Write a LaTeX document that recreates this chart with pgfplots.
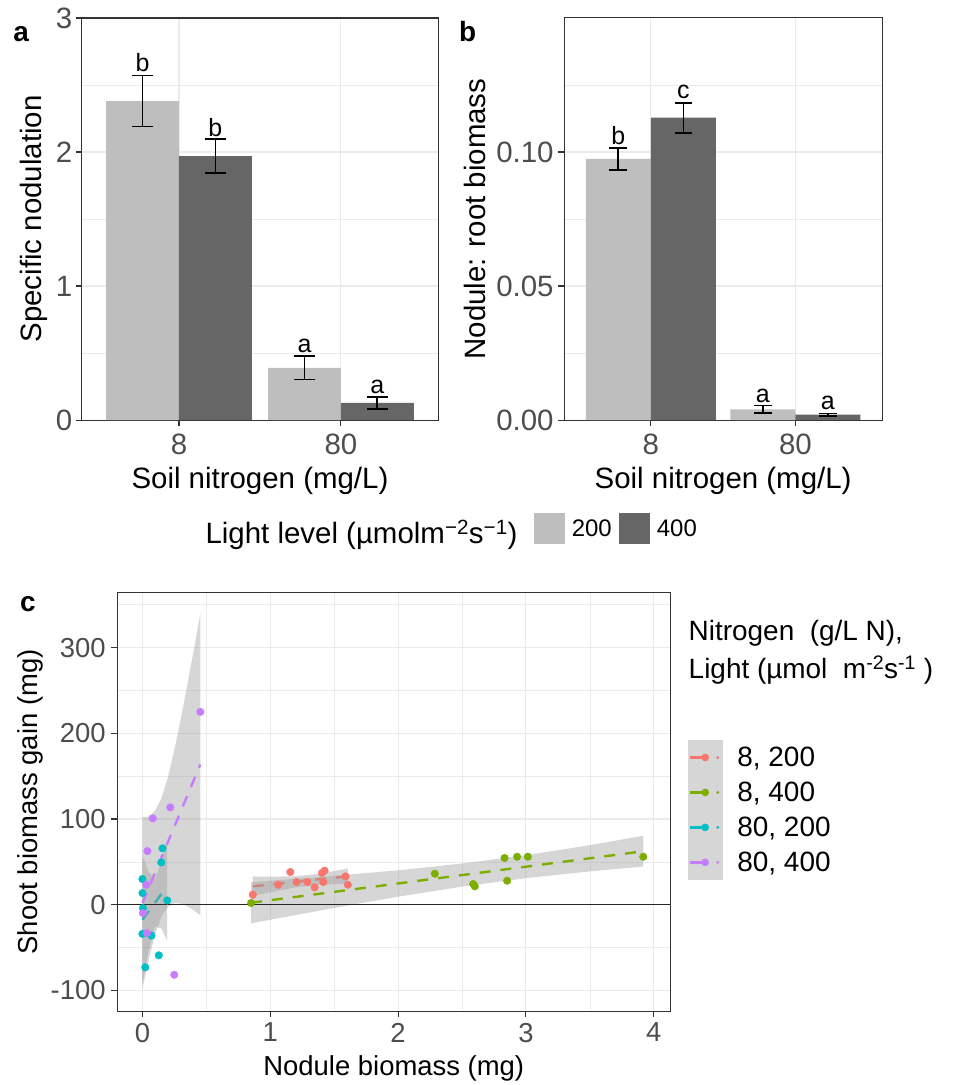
\documentclass[border=0pt]{standalone}
\usepackage{fontspec}
\setmainfont{Liberation Sans}
\usepackage{pgfplots}
\pgfplotsset{compat=1.18}
\definecolor{lightbar}{HTML}{BEBEBE}
\definecolor{darkbar}{HTML}{666666}
\definecolor{gridc}{HTML}{EBEBEB}
\definecolor{framec}{HTML}{333333}
\definecolor{tickc}{HTML}{4D4D4D}
\definecolor{cA}{HTML}{F8766D}
\definecolor{cB}{HTML}{7CAE00}
\definecolor{cC}{HTML}{00BFC4}
\definecolor{cD}{HTML}{C77CFF}
\definecolor{ribbon}{HTML}{999999}
\definecolor{keybg}{HTML}{D6D6D6}
\newcommand\fT{\fontsize{29.5}{30}\selectfont}
\newcommand\fC{\fontsize{27.5}{28}\selectfont}
\newcommand\fL{\fontsize{25}{25}\selectfont}
\newcommand\fP{\fontsize{28}{28}\selectfont\bfseries}
\pgfplotsset{
  layers/gglayers/.define layer set={axis background,axis grid,pre main,main,axis ticks,axis lines,axis tick labels,axis descriptions,axis foreground}{},
  ggbase/.style={
    set layers=gglayers,
    scale only axis, anchor=south west,
    axis line style={framec, line width=1.1pt},
    tick style={framec, line width=1.1pt},
    tick align=outside, tick pos=left,
    major tick length=6pt, minor tick length=0pt,
    major grid style={gridc, line width=1.1pt},
    minor grid style={gridc, line width=0.55pt},
    /pgf/number format/assume math mode=true,
    xticklabel style={text=tickc, anchor=north, inner sep=0pt},
    yticklabel style={text=tickc, anchor=east, inner sep=0pt},
  },
  barax/.style={ggbase, width=#1, height=403pt,
    xmin=0.4, xmax=2.6, xtick={1,2}, xticklabels={8,80},
    xmajorgrids, ymajorgrids, yminorgrids,
    ticklabel style={font=\fT},
    xticklabel shift=8pt,
    every axis x label/.style={at={(axis description cs:0.5,-0.1712)}, anchor=base, font=\fT},
  },
  barpl/.style 2 args={ybar, bar width=0.45, bar shift=0pt, fill=#1, draw=none,
    error bars/.cd, y dir=both, y explicit,
    error bar style={draw=black, line width=1.7pt},
    error mark options={draw=black, line width=1.7pt, rotate=90, mark size=#2}},
}
\begin{document}
\begin{tikzpicture}[x=1pt,y=1pt]
\path (0,0) rectangle (958,1085);

% ---------------- panel a
\begin{axis}[barax=357pt, at={(82pt,664pt)},
  ymin=0, ymax=3, ytick={0,1,2,3}, yticklabels={0,1,2,3}, minor ytick={0.5,1.5,2.5},
  yticklabel shift=3.3pt,
  xlabel={Soil nitrogen (mg/L)}, ylabel={Specific nodulation},
  every axis y label/.style={at={(axis description cs:-0.1129,0.5)}, rotate=90, anchor=base, font=\fT},
  legend image code/.code={\fill (0pt,-15.6pt) rectangle (31.1pt,15.6pt);},
  legend style={at={(axis description cs:1.2697,-0.2315)}, anchor=north west, draw=none, fill=none,
    inner sep=0pt, outer sep=0pt, legend columns=-1,
    nodes={inner sep=0pt, font=\fontsize{24}{24}\selectfont},
    /tikz/every odd column/.append style={column sep=6.6pt},
    /tikz/every even column/.append style={column sep=7.6pt}},
]
\addplot[barpl={lightbar}{10.8pt}] coordinates {(0.775,2.38) +- (0,0.19) (1.775,0.39) +- (0,0.088)};
\addlegendentry{200}
\addplot[barpl={darkbar}{10.8pt}] coordinates {(1.225,1.97) +- (0,0.125) (2.225,0.128) +- (0,0.046)};
\addlegendentry{400}
\node[anchor=base, inner sep=0pt, font=\fL] at (axis cs:0.775,2.60) {b};
\node[anchor=base, inner sep=0pt, font=\fL] at (axis cs:1.225,2.117) {b};
\node[anchor=base, inner sep=0pt, font=\fL] at (axis cs:1.775,0.506) {a};
\node[anchor=base, inner sep=0pt, font=\fL] at (axis cs:2.225,0.20) {a};
\end{axis}

% ---------------- panel b
\begin{axis}[barax=318.7pt, at={(565.3pt,664pt)},
  ymin=0, ymax=0.15, ytick={0,0.05,0.1}, yticklabels={0.00,0.05,0.10}, minor ytick={0.025,0.075,0.125},
  yticklabel shift=4.3pt,
  xlabel={Soil nitrogen (mg/L)}, ylabel={Nodule: root biomass},
  every axis y label/.style={at={(axis description cs:-0.2466,0.5)}, rotate=90, anchor=base, font=\fT},
]
\addplot[barpl={lightbar}{8.85pt}] coordinates {(0.775,0.0974) +- (0,0.0040) (1.775,0.0040) +- (0,0.0014)};
\addplot[barpl={darkbar}{8.85pt}] coordinates {(1.225,0.1128) +- (0,0.0056) (2.225,0.0020) +- (0,0.0005)};
\node[anchor=base, inner sep=0pt, font=\fL] at (axis cs:0.775,0.1028) {b};
\node[anchor=base, inner sep=0pt, font=\fL] at (axis cs:1.225,0.1199) {c};
\node[anchor=base, inner sep=0pt, font=\fL] at (axis cs:1.775,0.0066) {a};
\node[anchor=base, inner sep=0pt, font=\fL] at (axis cs:2.225,0.0041) {a};
\end{axis}

% ---------------- panel c
\begin{axis}[ggbase, at={(117.5pt,71.7pt)}, width=554.3pt, height=419.3pt,
  xmin=-0.197, xmax=4.13, ymin=-124.1, ymax=364,
  xtick={0,1,2,3,4}, xticklabels={0,1,2,3,4}, minor xtick={0.5,1.5,2.5,3.5},
  ytick={-100,0,100,200,300}, yticklabels={-100,0,100,200,300}, minor ytick={-50,50,150,250,350},
  grid=both,
  ticklabel style={font=\fC},
  xticklabel shift=5.7pt, yticklabel shift=5.5pt,
  xlabel={Nodule biomass (mg)}, ylabel={Shoot biomass gain (mg)},
  every axis x label/.style={at={(axis description cs:0.5,-0.155)}, anchor=base, font=\fC},
  every axis y label/.style={at={(axis description cs:-0.1447,0.5)}, rotate=90, anchor=base, font=\fC},
  legend image code/.code={
    \fill[keybg, draw=none] (0pt,-17.5pt) rectangle (36pt,17.5pt);
    \draw[solid, line width=2.4pt] (2.7pt,0pt) -- (17.7pt,0pt);
    \fill (17.7pt,0pt) circle (3.6pt);
    \fill (30.3pt,0pt) circle (1.2pt);},
  legend cell align=left,
  legend style={at={(axis description cs:1.031,0.6478)}, anchor=north west, draw=none, fill=none,
    inner sep=0pt, outer sep=0pt, row sep=0pt,
    nodes={inner sep=0pt, font=\fontsize{28}{28}\selectfont},
    /tikz/every odd column/.append style={column sep=14pt}},
]
% points
\addplot[only marks, mark=*, mark size=3.8pt, color=cA, forget plot] coordinates {
 (0.863,11.7) (1.063,23.3) (1.157,38.2) (1.206,26.5) (1.29,26.5) (1.347,20.3)
 (1.404,37) (1.425,39.7) (1.415,26.5) (1.589,33.1) (1.607,23.3)};
\addplot[only marks, mark=*, mark size=3.8pt, color=cB, forget plot] coordinates {
 (0.85,2) (2.287,36.2) (2.588,24.2) (2.60,21.5) (2.833,54.5) (2.853,28) (2.931,56) (3.015,56) (3.918,56)};
\addplot[only marks, mark=*, mark size=3.8pt, color=cC, forget plot] coordinates {
 (0,30) (0,13.6) (0.157,65.8) (0.147,49.4) (0.194,5) (0.004,-4) (0,-34) (0.071,-36) (0.128,-59) (0.022,-73)};
\addplot[only marks, mark=*, mark size=3.8pt, color=cD, forget plot] coordinates {
 (0.453,225) (0.218,113.6) (0.081,100.8) (0.039,62.6) (0.03,23.3) (0.004,-9.7) (0.035,-33) (0.249,-81.7)};
% ribbons and fits
\addplot[fill=ribbon, fill opacity=0.4, draw=none, forget plot] coordinates {
 (0.863,33) (1.0,32.7) (1.2,33.3) (1.4,36.5) (1.607,42.3)
 (1.607,24.3) (1.4,23.5) (1.2,20.3) (1.0,14.6) (0.863,10)};
\addplot[cA, line width=2.4pt, dash pattern=on 11pt off 10pt, forget plot] coordinates {(0.863,21.5) (1.607,33.3)};
\addplot[fill=ribbon, fill opacity=0.4, draw=none, forget plot] coordinates {
 (0.85,26.3) (1.5,33.7) (2.0,40.2) (2.5,48.1) (3.0,57.8) (3.5,69.5) (3.918,80.5)
 (3.918,44.5) (3.5,38.9) (3.0,31.0) (2.5,21.1) (2.0,9.4) (1.5,-3.7) (0.85,-21.7)};
\addplot[cB, line width=2.4pt, dash pattern=on 11pt off 10pt, forget plot] coordinates {(0.85,2.3) (3.918,62.4)};
\addplot[fill=ribbon, fill opacity=0.4, draw=none, forget plot] coordinates {
 (0,57.5) (0.05,38) (0.1,30.8) (0.15,50) (0.194,76)
 (0.194,-42) (0.15,-28) (0.1,-25.2) (0.05,-52.8) (0,-92.5)};
\addplot[cC, line width=2.4pt, dash pattern=on 11pt off 10pt, forget plot] coordinates {(0,-17.5) (0.194,21.9)};
\addplot[fill=ribbon, fill opacity=0.4, draw=none, forget plot] coordinates {
 (0,102) (0.05,103.1) (0.1,109.7) (0.15,124.8) (0.2,149) (0.25,180.7) (0.3,216.8) (0.35,255.7) (0.4,295.9) (0.453,339.7)
 (0.453,-12.3) (0.4,-6.3) (0.35,-1.7) (0.3,1.4) (0.25,1.9) (0.2,-2.2) (0.15,-13.6) (0.1,-34.3) (0.05,-63.3) (0,-98)};
\addplot[cD, line width=2.4pt, dash pattern=on 11pt off 10pt, forget plot] coordinates {(0,2) (0.453,163.7)};
\addplot[black!85, line width=1.5pt, forget plot] coordinates {(-0.197,0) (4.13,0)};
\addlegendimage{cA}\addlegendentry{8, 200}
\addlegendimage{cB}\addlegendentry{8, 400}
\addlegendimage{cC}\addlegendentry{80, 200}
\addlegendimage{cD}\addlegendentry{80, 400}
\end{axis}

% ---------------- free texts
\node[anchor=base west, inner sep=0pt, font=\fP] at (13.3,1043.3) {a};
\node[anchor=base west, inner sep=0pt, font=\fP] at (460,1043.3) {b};
\node[anchor=base west, inner sep=0pt, font=\fP] at (20,471.7) {c};
\node[anchor=base west, inner sep=0pt, font=\fT] at (205.8,540) {Light level (µmolm\textsuperscript{−2}s\textsuperscript{−1})};
\node[anchor=base west, inner sep=0pt, font=\fontsize{28}{28}\selectfont] at (690,443.3) {Nitrogen \ (g/L N),};
\node[anchor=base west, inner sep=0pt, font=\fontsize{28}{28}\selectfont] at (690,405) {Light (µmol \ m\textsuperscript{-2}s\textsuperscript{-1} )};
\end{tikzpicture}
\end{document}
